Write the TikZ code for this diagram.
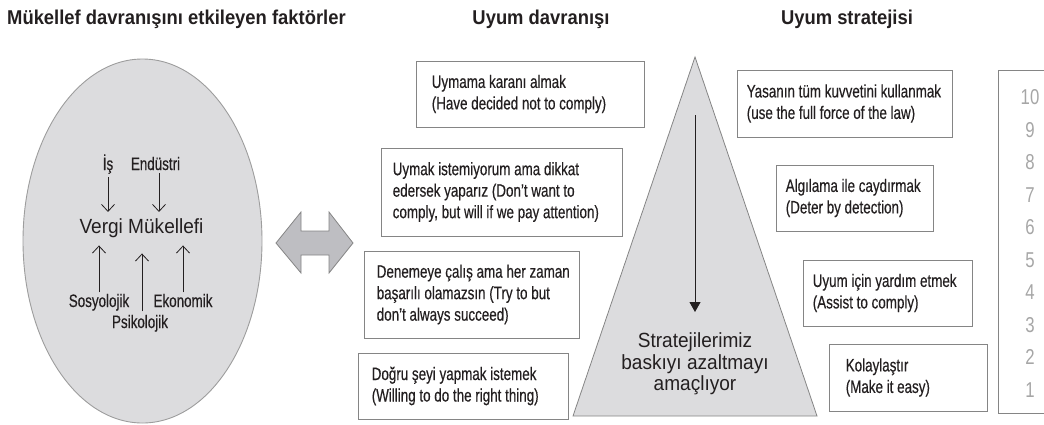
\documentclass[tikz,border=0pt]{standalone}
\usepackage{fontspec}
\setmainfont{Liberation Sans}
\newfontfamily\condf[FakeStretch=0.745,FakeBold=0.35]{Liberation Sans}
\newfontfamily\titlef[FakeStretch=0.92]{Liberation Sans}
\newfontfamily\midf[FakeStretch=0.93]{Liberation Sans}
\newfontfamily\numf[FakeStretch=0.78]{Liberation Sans}
\usetikzlibrary{arrows.meta,shapes.geometric}
\definecolor{ink}{HTML}{231F20}
\definecolor{edge}{HTML}{858585}
\definecolor{lightfill}{HTML}{DCDCDE}
\definecolor{arrowfill}{HTML}{BEBEC2}
\definecolor{numgray}{HTML}{A6A6A6}
\tikzset{
  titletext/.style={anchor=base, inner sep=0pt, text=ink, font=\titlef\bfseries\fontsize{20}{22}\selectfont},
  factor/.style={anchor=base, inner sep=0pt, text=ink, font=\condf\fontsize{18}{20}\selectfont},
  boxframe/.style={draw=edge, line width=0.9pt, inner sep=0pt, fill=white},
  boxtext/.style={anchor=west, inner sep=0pt, align=left, text=ink, font=\condf\fontsize{18}{21.5}\selectfont},
  thinarrow/.style={draw=ink, line width=0.8pt, -{Straight Barb[length=7pt,width=13pt]}},
  numlabel/.style={inner sep=0pt, text=numgray, font=\numf\fontsize{21.5}{24}\selectfont},
}
\begin{document}
\begin{tikzpicture}[x=1pt,y=-1pt]
\useasboundingbox (0,0) rectangle (1044,424);

% titles
\node[titletext, anchor=base west] (t1) at (7,24) {Mükellef davranışını etkileyen faktörler};
\node[titletext] (t2) at (541,24) {Uyum davranışı};
\node[titletext] (t3) at (847,24) {Uyum stratejisi};

% ellipse of factors
\node[ellipse, draw=edge!80, line width=0.9pt, fill=lightfill, minimum width=239pt, minimum height=364pt, inner sep=0pt] (taxcloud) at (142.5,241) {};
\node[factor] (is) at (108,170) {İş};
\node[factor] (endustri) at (155.5,170) {Endüstri};
\node[anchor=base, inner sep=0pt, text=ink, font=\midf\fontsize{20.5}{24}\selectfont] (vergi) at (141.5,233) {Vergi Mükellefi};
\node[factor] (sosyo) at (99,307) {Sosyolojik};
\node[factor] (ekono) at (183,307) {Ekonomik};
\node[factor] (psiko) at (140,328) {Psikolojik};

\draw[thinarrow, shorten <=3pt, shorten >=6pt] (is.south) -- (is.south |- vergi.north);
\draw[thinarrow, shorten <=3pt, shorten >=6pt] ([xshift=3.5pt]endustri.south) -- ([xshift=3.5pt]endustri.south |- vergi.north);
\draw[thinarrow, shorten <=1.5pt, shorten >=8pt] (sosyo.north) -- (sosyo.north |- vergi.south);
\draw[thinarrow, shorten <=1.5pt, shorten >=8pt] (ekono.north) -- (ekono.north |- vergi.south);
\draw[thinarrow, shorten <=3.5pt, shorten >=16pt] ([xshift=2pt]psiko.north) -- ([xshift=2pt]psiko.north |- vergi.south);

% double arrow
\filldraw[fill=arrowfill, draw=edge, line width=0.8pt]
  (276,243) -- (301,212) -- (301,231) -- (329,231) -- (329,212) -- (353,243)
  -- (329,273) -- (329,255) -- (301,255) -- (301,273) -- cycle;

% behaviour boxes
\node[boxframe, minimum width=228pt, minimum height=66pt] (b1) at (530,94) {};
\node[boxtext] (b1t) at ([xshift=16pt]b1.west) {Uymama karanı almak\\(Have decided not to comply)};
\node[boxframe, minimum width=241pt, minimum height=88pt] (b2) at (501.5,192) {};
\node[boxtext] (b2t) at ([xshift=12pt]b2.west) {Uymak istemiyorum ama dikkat\\edersek yaparız (Don’t want to\\comply, but will if we pay attention)};
\node[boxframe, minimum width=215pt, minimum height=87pt] (b3) at (471.5,294.5) {};
\node[boxtext] (b3t) at ([xshift=13pt]b3.west) {Denemeye çalış ama her zaman\\başarılı olamazsın (Try to but\\don’t always succeed)};
\node[boxframe, minimum width=210pt, minimum height=66pt] (b4) at (463,386) {};
\node[boxtext] (b4t) at ([xshift=14pt]b4.west) {Doğru şeyi yapmak istemek\\(Willing to do the right thing)};

% pyramid
\coordinate (apex) at (695,57);
\coordinate (baseL) at (573,416);
\coordinate (baseR) at (817,416);
\filldraw[fill=lightfill, draw=edge, line width=0.8pt] (apex) -- (baseR) -- (baseL) -- cycle;
\node[inner sep=0pt, align=center, text=ink, font=\midf\fontsize{20.5}{21.5}\selectfont] (aim) at (695,364) {Stratejilerimiz\\baskıyı azaltmayı\\amaçlıyor};
\coordinate (arrtop) at (695,115);
\draw[draw=ink, line width=1pt, -{Triangle[length=10pt,width=11pt]}, shorten >=1pt] (arrtop) -- (arrtop |- 0,313);

% strategy boxes
\node[boxframe, minimum width=215pt, minimum height=67pt] (s1) at (844.5,103.5) {};
\node[boxtext] (s1t) at ([xshift=10pt]s1.west) {Yasanın tüm kuvvetini kullanmak\\(use the full force of the law)};
\node[boxframe, minimum width=157pt, minimum height=66pt] (s2) at (854.5,198) {};
\node[boxtext] (s2t) at ([xshift=10pt]s2.west) {Algılama ile caydırmak\\(Deter by detection)};
\node[boxframe, minimum width=169pt, minimum height=66pt] (s3) at (887.5,293) {};
\node[boxtext] (s3t) at ([xshift=10pt]s3.west) {Uyum için yardım etmek\\(Assist to comply)};
\node[boxframe, minimum width=158pt, minimum height=67pt] (s4) at (908,377.5) {};
\node[boxtext] (s4t) at ([xshift=17pt]s4.west) {Kolaylaştır\\(Make it easy)};

% scale column
\coordinate (scTR) at (1046,70);
\coordinate (scTL) at (998,70);
\coordinate (scBL) at (998,413);
\coordinate (scBR) at (1046,413);
\draw[draw=edge, line width=0.8pt] (scTR) -- (scTL) -- (scBL) -- (scBR);
\foreach \k in {1,...,10} {
  \node[numlabel] (n\k) at (1030,{390-(\k-1)*32.55}) {\k};
}
\end{tikzpicture}
\end{document}
